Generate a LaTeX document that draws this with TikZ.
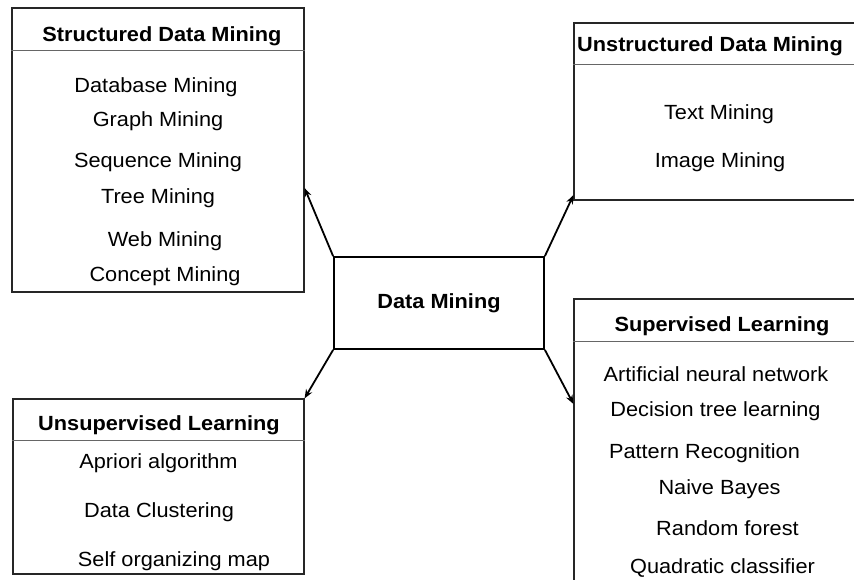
\documentclass[tikz,border=0pt]{standalone}
\usepackage{fontspec}
\setmainfont{Liberation Sans}[FakeStretch=1.06]
\usetikzlibrary{arrows.meta}
\begin{document}
\begin{tikzpicture}[x=1pt,y=-1pt,
  box/.style={draw=black!85, line width=1.1pt, rectangle, inner sep=0pt},
  hdr/.style={draw=black!60, line width=1pt},
  center/.style={draw=black, line width=1.8pt, rectangle, inner sep=0pt, minimum width=210pt, minimum height=92pt, font=\bfseries\fontsize{20.5}{24}\selectfont},
  txt/.style={inner sep=0pt, text height=14.5pt, text depth=0pt, font=\fontsize{20.5}{24}\selectfont},
  ttl/.style={txt, font=\bfseries\fontsize{20.5}{24}\selectfont},
  arr/.style={line width=1.8pt, -{Stealth[length=9pt,width=7pt]}}]
\clip (0,0) rectangle (854,579);
% boxes
\node[box, minimum width=292pt, minimum height=284pt] (sdm) at (158,150) {};
\node[box, minimum width=296pt, minimum height=177pt] (udm) at (722,111.5) {};
\node[box, minimum width=291pt, minimum height=175pt] (ul) at (158.5,486.5) {};
\node[box, minimum width=296pt, minimum height=301pt] (sl) at (722,449.5) {};
\node[center] (dm) at (439,303) {Data Mining};
% header separators
\draw[hdr] ([yshift=-43pt]sdm.north west) -- ([yshift=-43pt]sdm.north east);
\draw[hdr] ([yshift=-42pt]udm.north west) -- ([yshift=-42pt]udm.north east);
\draw[hdr] ([yshift=-42pt]ul.north west) -- ([yshift=-42pt]ul.north east);
\draw[hdr] ([yshift=-43pt]sl.north west) -- ([yshift=-43pt]sl.north east);
% titles
\node[ttl] (t1) at (162,34) {Structured Data Mining};
\node[ttl] (t2) at (710,44) {Unstructured Data Mining};
\node[ttl] (t3) at (159,423) {Unsupervised Learning};
\node[ttl] (t4) at (722,324) {Supervised Learning};
% structured items
\node[txt] (s1) at (156,85) {Database Mining};
\node[txt] (s2) at (158,119) {Graph Mining};
\node[txt] (s3) at (158,160) {Sequence Mining};
\node[txt] (s4) at (158,196) {Tree Mining};
\node[txt] (s5) at (165,239) {Web Mining};
\node[txt] (s6) at (165,274) {Concept Mining};
% unstructured items
\node[txt] (u1) at (719,112) {Text Mining};
\node[txt] (u2) at (720,160) {Image Mining};
% unsupervised items
\node[txt] (v1) at (158.5,461) {Apriori algorithm};
\node[txt] (v2) at (159,510) {Data Clustering};
\node[txt] (v3) at (174,559) {Self organizing map};
% supervised items
\node[txt] (p1) at (716,374) {Artificial neural network};
\node[txt] (p2) at (715.5,409) {Decision tree learning};
\node[txt] (p3) at (704.5,451) {Pattern Recognition};
\node[txt] (p4) at (719.5,487) {Naive Bayes};
\node[txt] (p5) at (727.5,528) {Random forest};
\node[txt] (p6) at (722.5,566) {Quadratic classifier};
% arrow end points on box edges
\coordinate (e1) at (sdm.east |- 0,188);
\coordinate (e2) at (udm.west |- 0,195);
\coordinate (e3) at (ul.north east);
\coordinate (e4) at (sl.west |- 0,404);
\draw[arr] (dm.north west) -- (e1);
\draw[arr] (dm.north east) -- (e2);
\draw[arr] (dm.south west) -- (e3);
\draw[arr] (dm.south east) -- (e4);
\end{tikzpicture}
\end{document}
